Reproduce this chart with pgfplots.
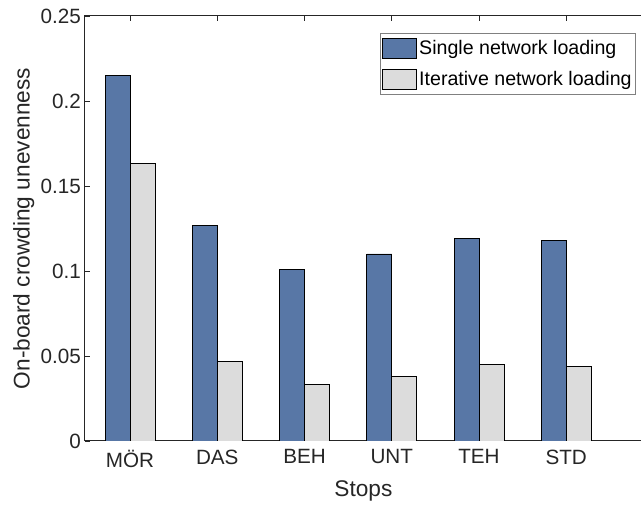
\documentclass[border=0pt]{standalone}
\usepackage{fontspec}
\setmainfont{Liberation Sans}
\usepackage{pgfplots}
\pgfplotsset{compat=1.18}
\pgfplotsset{/pgfplots/ybar legend/.style={/pgfplots/legend image code/.code={\draw[##1] (0pt,-7.5pt) rectangle (25.5pt,7.5pt);}}}
\definecolor{barblue}{RGB}{88,119,166}
\definecolor{bargray}{RGB}{220,220,220}
\definecolor{axgray}{RGB}{38,38,38}
\begin{document}
\begin{tikzpicture}
\begin{axis}[name=ax, scale only axis, width=417.6pt, height=318.75pt,
 xmin=-0.516, xmax=5.866, ymin=0, ymax=0.25,
 ybar=0pt, bar width=18.75pt,
 xtick={0,1,2,3,4,5}, xticklabels={MÖR,DAS,BEH,UNT,TEH,STD},
 ytick={0,0.05,0.1,0.15,0.2,0.25}, yticklabels={0,0.05,0.1,0.15,0.2,0.25},
 xtick pos=both, ytick pos=left,
 tick align=inside, major tick length=3.75pt, tick style={axgray, line width=0.6pt},
 axis line style={axgray, line width=0.75pt},
 ticklabel style={font=\fontsize{15.5}{18}\selectfont, text=axgray},
 xticklabel style={yshift=-3pt},
 yticklabel style={xshift=0.5pt},
 xlabel={Stops}, ylabel={On-board crowding unevenness},
 label style={font=\fontsize{17}{20}\selectfont, text=axgray},
 xlabel style={yshift=-3pt},
 ylabel style={yshift=-2pt},
 legend style={at={(axis description cs:1,1)}, anchor=north east, xshift=-4.3pt, yshift=-12.75pt,
   draw=gray, line width=0.6pt, fill=white, font=\fontsize{14.7}{17}\selectfont,
   inner xsep=1pt, inner ysep=3.5pt, row sep=6.5pt, column sep=0pt},
 legend cell align=left,
]
\addplot[fill=barblue, draw=black, line width=0.6pt]
 coordinates {(0,0.215) (1,0.127) (2,0.101) (3,0.110) (4,0.119) (5,0.118)};
\addplot[fill=bargray, draw=black, line width=0.6pt]
 coordinates {(0,0.163) (1,0.047) (2,0.033) (3,0.038) (4,0.045) (5,0.044)};
\legend{Single network loading, Iterative network loading}
\end{axis}
\pgfresetboundingbox
\path ([xshift=-63.75pt, yshift=-48.75pt]ax.south west) rectangle ([xshift=-0.6pt, yshift=12pt]ax.north east);
\end{tikzpicture}
\end{document}
